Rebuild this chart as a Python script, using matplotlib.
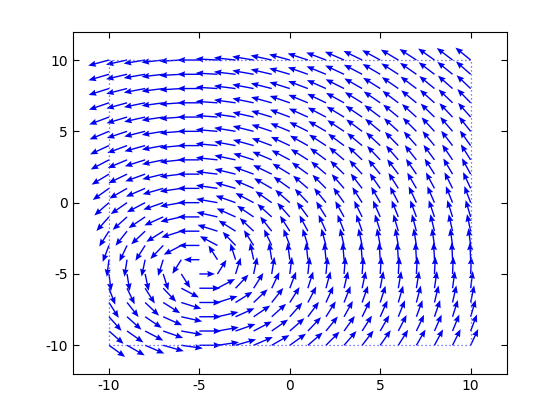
#!/usr/bin/env python3
import numpy as np
import matplotlib
matplotlib.use('Agg')
from matplotlib import pyplot as plt

# grid of the field (one arrow per integer point)
grid_x = np.arange(-10, 11, 1)
grid_y = np.arange(-10, 11, 1)

# NOTE: the 441 arrows are not typed one by one. They come from a fitted
# vortex model whose parameters were read off the picture: counter-clockwise
# rotation round a centre near (-5, -4.5), near-constant length far out,
# shorter arrows inside core_radius.
vortex_centre = (-5.0, -4.5)
core_radius = 0.5

# dotted frame around the grid
box_x = [-10, 10, 10, -10, -10]
box_y = [-10, -10, 10, 10, -10]

ticks = [-10, -5, 0, 5, 10]

plt.rcParams['font.family'] = ['DejaVu Sans']
plt.rcParams['font.size'] = 10
plt.rcParams['axes.unicode_minus'] = False

X, Y = np.meshgrid(grid_x, grid_y)
dx = X - vortex_centre[0]
dy = Y - vortex_centre[1]
r = np.hypot(dx, dy)
mag = 1.0 / np.sqrt(r**2 + core_radius**2)
U = -dy * mag
V = dx * mag

# octave style autoscale: 0.9 of the grid diagonal for the longest arrow
step_x = (grid_x.max() - grid_x.min()) / len(grid_x)
step_y = (grid_y.max() - grid_y.min()) / len(grid_y)
s = 0.9 * np.hypot(step_x, step_y) / np.hypot(U, V).max()

fig = plt.figure(figsize=(5.6, 4.2), dpi=100)
ax = fig.add_axes([0.13, 0.11, 0.775, 0.815])

ax.plot(box_x, box_y, color='#5050ff', lw=0.9, linestyle=(0, (1, 2.2)))
ax.quiver(X, Y, U * s, V * s, angles='xy', scale_units='xy', scale=1,
          color='#0000f0', width=0.0032, headwidth=4.5, headlength=5.5,
          headaxislength=5)

ax.set_xlim(-12, 12)
ax.set_ylim(-12, 12)
ax.set_xticks(ticks)
ax.set_yticks(ticks)
ax.tick_params(direction='in', top=True, right=True, length=4, width=0.8)
for sp in ax.spines.values():
    sp.set_linewidth(0.8)

fig.savefig('out.png', dpi=100)
